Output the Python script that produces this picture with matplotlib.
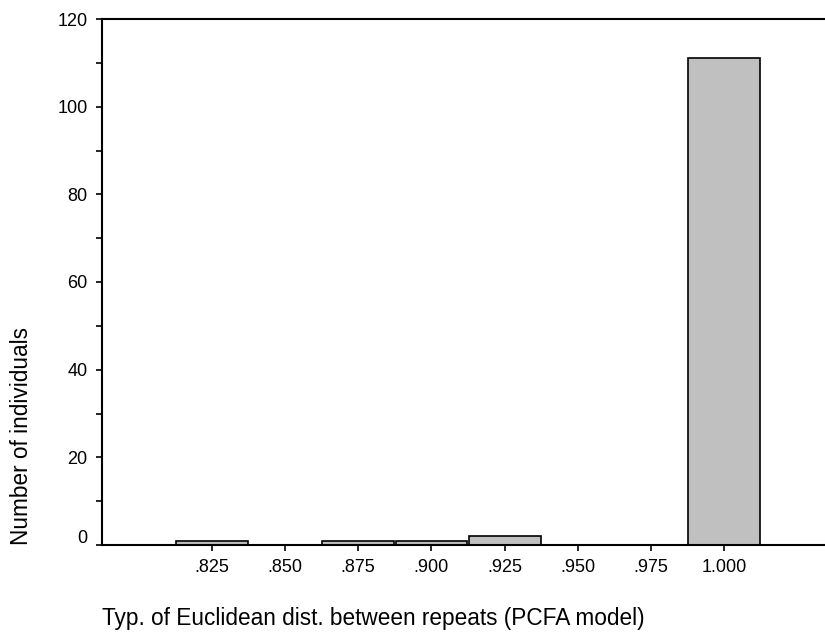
import numpy as np
import matplotlib
matplotlib.use('Agg')
import matplotlib.pyplot as plt
import matplotlib.transforms as mtransforms
from matplotlib.ticker import MultipleLocator

# data
bin_centers = [0.825, 0.875, 0.900, 0.925, 1.000]
counts = [1, 1, 1, 2, 111]
xtick_values = [0.825, 0.850, 0.875, 0.900, 0.925, 0.950, 0.975, 1.000]
xtick_labels = ['.825', '.850', '.875', '.900', '.925', '.950', '.975', '1.000']
ytick_values = [0, 20, 40, 60, 80, 100, 120]

plt.rcParams['font.family'] = ['Liberation Sans', 'DejaVu Sans']

fig = plt.figure(figsize=(8.25, 6.37), dpi=100)
ax = fig.add_axes([102 / 825, 1 - 545 / 637, 1 - 102 / 825, (545 - 19) / 637])

width = 0.0245
ax.bar(bin_centers, counts, width, color='#c0c0c0', edgecolor='black',
       linewidth=1.2, zorder=2)

ax.set_xlim(0.7875, 1.0344)
ax.set_ylim(0, 120)
ax.set_xticks(xtick_values)
ax.set_xticklabels(xtick_labels)
ax.set_yticks(ytick_values)
ax.yaxis.set_minor_locator(MultipleLocator(10))

ax.spines['right'].set_visible(False)
for side in ['left', 'bottom', 'top']:
    ax.spines[side].set_linewidth(1.5)
ax.spines['left'].set_zorder(3)
ax.spines['bottom'].set_zorder(3)

ax.tick_params(axis='y', which='both', direction='out', length=4.5, width=1.2,
               pad=6, labelsize=13)
ax.tick_params(axis='x', which='both', direction='out', length=4, width=1.2,
               pad=6, labelsize=13)

# the "0" label sits a little above its tick in the original
zero_lbl = ax.yaxis.get_major_ticks()[0].label1
zero_lbl.set_transform(zero_lbl.get_transform() +
                       mtransforms.ScaledTranslation(0, 6 / 72, fig.dpi_scale_trans))

fig.text(102 / 825, 1 - 619 / 637,
         'Typ. of Euclidean dist. between repeats (PCFA model)',
         ha='left', va='center', fontsize=16.3)
fig.text(22 / 825, 1 - 545 / 637, 'Number of individuals',
         rotation=90, ha='center', va='bottom', fontsize=16.3)

fig.savefig('out.png', dpi=100)
